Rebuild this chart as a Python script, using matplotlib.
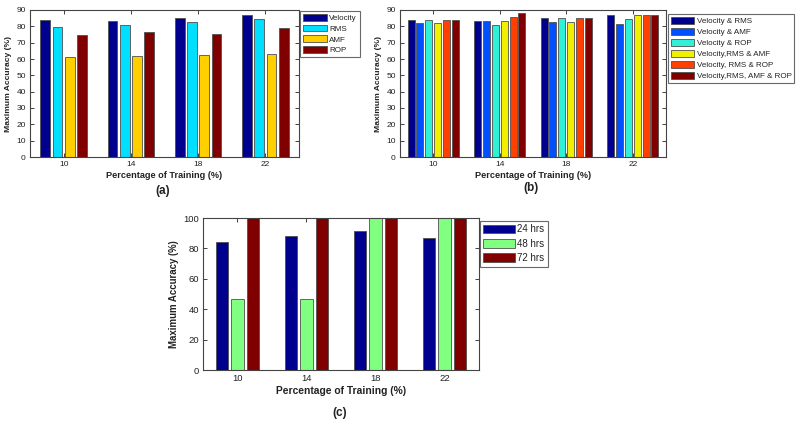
import matplotlib
matplotlib.use("Agg")
import matplotlib.pyplot as plt
import numpy as np

plt.rcParams['font.family'] = ['Liberation Sans', 'DejaVu Sans']

categories = ['10', '14', '18', '22']

# Panel (a)
a_labels = ['Velocity', 'RMS', 'AMF', 'ROP']
a_values = [
    [83.9, 83.1, 84.9, 86.7],   # Velocity
    [79.4, 80.8, 82.5, 84.3],   # RMS
    [61.2, 62.0, 62.4, 63.1],   # AMF
    [74.9, 76.3, 75.1, 79.0],   # ROP
]
a_colors = ['#00008F', '#00DFFF', '#FFCF00', '#800000']

# Panel (b)
b_labels = ['Velocity & RMS', 'Velocity & AMF', 'Velocity & ROP',
            'Velocity,RMS & AMF', 'Velocity, RMS & ROP', 'Velocity,RMS, AMF & ROP']
b_values = [
    [83.9, 83.1, 84.9, 86.7],
    [81.9, 83.1, 82.5, 81.4],
    [83.9, 80.8, 84.9, 84.3],
    [81.9, 83.1, 82.5, 86.7],
    [83.9, 85.7, 84.9, 86.7],
    [83.9, 88.0, 84.9, 86.7],
]
b_colors = ['#00008F', '#0050FF', '#30F0D8', '#F0F000', '#FF4000', '#800000']

# Panel (c)
c_labels = ['24 hrs', '48 hrs', '72 hrs']
c_values = [
    [83.9, 88.1, 91.4, 86.8],
    [46.7, 46.7, 100, 100],
    [100, 100, 100, 100],
]
c_colors = ['#00008F', '#80FF80', '#800000']

TXT = '#222222'


def grouped(ax, values, colors, labels, ylim, yticks, fs, lfs, leg_anchor,
            handlelength, handleheight, labelspacing):
    n = len(values)
    x = np.arange(1, len(categories) + 1)
    gw = min(0.8, n / (n + 1.5))
    slot = gw / n
    bw = slot * 0.8
    for i, (vals, col, lab) in enumerate(zip(values, colors, labels)):
        off = -gw / 2 + slot * (i + 0.5)
        ax.bar(x + off, vals, width=bw, color=col, edgecolor='#505050',
               linewidth=0.6, label=lab, zorder=2)
    ax.set_xlim(0.5, 4.5)
    ax.set_ylim(*ylim)
    ax.set_yticks(yticks)
    ax.set_xticks(x)
    ax.set_xticklabels(categories)
    ax.tick_params(direction='in', length=3, width=0.6, labelsize=fs,
                   colors=TXT, top=True, right=True, pad=3)
    for sp in ax.spines.values():
        sp.set_color('#444444')
        sp.set_linewidth(0.8)
    ax.set_xlabel('Percentage of Training (%)', fontsize=fs + 0.6,
                  fontweight='bold', color=TXT, labelpad=2)
    ax.set_ylabel('Maximum Accuracy (%)', fontsize=fs + 0.1,
                  fontweight='bold', color=TXT, labelpad=3)
    leg = ax.legend(loc='upper left', bbox_to_anchor=leg_anchor,
                    bbox_transform=ax.figure.transFigure,
                    fontsize=lfs, frameon=True, fancybox=False,
                    edgecolor='#444444', handlelength=handlelength,
                    handleheight=handleheight, labelspacing=labelspacing,
                    handletextpad=0.3, borderpad=0.35, borderaxespad=0)
    leg.get_frame().set_linewidth(0.8)
    for t in leg.get_texts():
        t.set_color(TXT)
    return ax


fig = plt.figure(figsize=(8, 4.26), dpi=100)

ax_a = fig.add_axes([30 / 800, 1 - 157 / 426, 269 / 800, 147 / 426])
grouped(ax_a, a_values, a_colors, a_labels, (0, 90), range(0, 91, 10),
        6.0, 5.8, (300 / 800, 1 - 11 / 426), 3.0, 0.9, 0.33)

ax_b = fig.add_axes([400 / 800, 1 - 157 / 426, 266 / 800, 147 / 426])
grouped(ax_b, b_values, b_colors, b_labels, (0, 90), range(0, 91, 10),
        6.0, 5.8, (668 / 800, 1 - 14 / 426), 2.9, 0.9, 0.36)

ax_c = fig.add_axes([203 / 800, 1 - 370 / 426, 276 / 800, 152 / 426])
grouped(ax_c, c_values, c_colors, c_labels, (0, 100), range(0, 101, 20),
        6.8, 7.0, (480 / 800, 1 - 221 / 426), 3.2, 1.0, 0.45)

fig.text(163 / 800, 1 - 191 / 426, '(a)', fontsize=8.5, fontweight='bold',
         ha='center', va='center', color=TXT)
fig.text(531 / 800, 1 - 188 / 426, '(b)', fontsize=8.5, fontweight='bold',
         ha='center', va='center', color=TXT)
fig.text(340 / 800, 1 - 413 / 426, '(c)', fontsize=8.5, fontweight='bold',
         ha='center', va='center', color=TXT)

fig.savefig('out.png', dpi=100, facecolor='white')
